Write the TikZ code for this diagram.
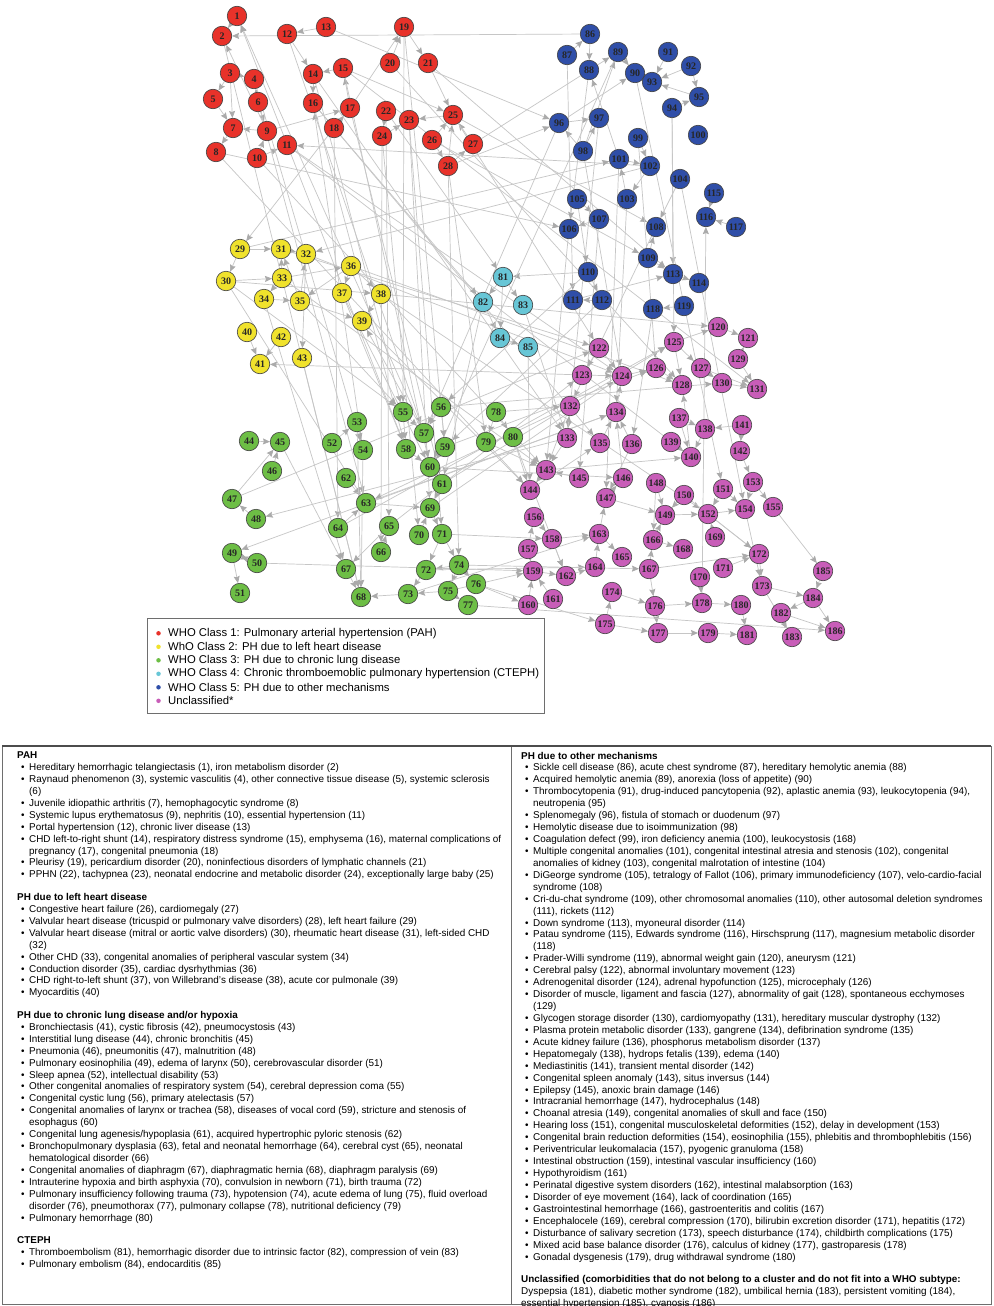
\documentclass[tikz,border=0pt]{standalone}
\usepackage{fontspec}
\setmainfont{Liberation Sans}
\newfontfamily\numfont{Liberation Serif}
\usepackage{tikz}
\usetikzlibrary{arrows.meta, backgrounds}
\definecolor{pahcol}{HTML}{E8322A}
\definecolor{lhdcol}{HTML}{F0E22C}
\definecolor{lungcol}{HTML}{6DBE45}
\definecolor{ctephcol}{HTML}{67C6D6}
\definecolor{othercol}{HTML}{2F4EA8}
\definecolor{unclcol}{HTML}{C85DB8}
\definecolor{linkcol}{HTML}{C6C6C6}
\definecolor{tipcol}{HTML}{AAAAAA}
\definecolor{framecol}{HTML}{6E6E6E}
\newcommand{\itm}{\hspace*{4pt}\makebox[8pt][l]{\textbullet}}
\newcommand{\cnt}{\hspace*{12pt}}

\begin{document}
\begin{tikzpicture}[
  x=1pt, y=-1pt,
  disease/.style={circle, draw=black!75, line width=0.6pt,
                  minimum size=19.5pt, inner sep=0pt, text=black!85,
                  font=\numfont\bfseries\fontsize{10}{10}\selectfont},
  pahnode/.style={disease, fill=pahcol},
  lhdnode/.style={disease, fill=lhdcol},
  lungnode/.style={disease, fill=lungcol},
  ctephnode/.style={disease, fill=ctephcol},
  othernode/.style={disease, fill=othercol},
  unclnode/.style={disease, fill=unclcol},
  link/.style={draw=linkcol, line width=0.7pt,
               -{Stealth[length=7pt,width=6pt,inset=1pt,color=tipcol]}},
  legbox/.style={draw=framecol, line width=0.9pt, minimum width=397pt,
                 minimum height=95pt, inner sep=0pt},
  legdot/.style={circle, inner sep=0pt, minimum size=4.5pt},
  legtext/.style={anchor=west, inner sep=0pt,
                  font=\fontsize{11.3}{12}\selectfont},
  tabcol/.style={anchor=north west, inner sep=0pt, align=left,
                 font=\fontsize{9.9}{11.93}\selectfont},
  tabrule/.style={draw=framecol, line width=1pt}
]
\useasboundingbox (0,0) rectangle (993,1306);

%% ── Cluster 1 (red) ─────────────────────────────────────────
\foreach \i/\x/\y in {1/237/16, 2/222/36, 3/230/73, 4/254/79, 5/213/99,
    6/258/102, 7/233/128, 8/216/152, 9/267/131, 10/257/158, 11/287/145,
    12/287/34, 13/326/27, 14/313/74, 15/343/68, 16/313/103, 17/350/108,
    18/334/128, 19/404/27, 20/390/63, 21/428/63, 22/386/111, 23/409/120,
    24/382/136, 25/453/115, 26/432/140, 27/473/144, 28/448/166}
  \node[pahnode] (n\i) at (\x,\y) {\i};

%% ── Cluster 2 (yellow) ──────────────────────────────────────
\foreach \i/\x/\y in {29/240/249, 30/226/281, 31/281/249, 32/306/254,
    33/282/278, 34/264/299, 35/300/301, 36/351/266, 37/342/293,
    38/381/294, 39/362/321, 40/247/332, 41/260/364, 42/281/337, 43/302/358}
  \node[lhdnode] (n\i) at (\x,\y) {\i};

%% ── Cluster 3 (green) ───────────────────────────────────────
\foreach \i/\x/\y in {44/249/441, 45/280/442, 46/272/471, 47/232/499,
    48/256/519, 49/232/553, 50/257/563, 51/240/593, 52/332/443,
    53/357/422, 54/363/450, 55/403/412, 56/441/407, 57/424/433,
    58/406/449, 59/445/447, 60/430/467, 61/442/484, 62/346/478,
    63/366/503, 64/338/528, 65/389/526, 66/381/552, 67/346/569,
    68/361/597, 69/430/508, 70/419/535, 71/442/534, 72/426/570,
    73/408/594, 74/459/565, 75/448/591, 76/476/584, 77/468/605,
    78/496/412, 79/486/442, 80/513/437}
  \node[lungnode] (n\i) at (\x,\y) {\i};

%% ── Cluster 4 (cyan) ────────────────────────────────────────
\foreach \i/\x/\y in {81/503/277, 82/483/302, 83/523/305, 84/500/338,
    85/528/347}
  \node[ctephnode] (n\i) at (\x,\y) {\i};

%% ── Cluster 5 (blue) ────────────────────────────────────────
\foreach \i/\x/\y in {86/590/34, 87/567/55, 88/589/70, 89/618/52,
    90/635/73, 91/668/52, 92/691/66, 93/652/82, 94/672/108, 95/699/97,
    96/559/123, 97/599/118, 98/583/151, 99/638/138, 100/698/135,
    101/619/159, 102/650/166, 103/627/199, 104/680/179, 105/577/199,
    106/569/229, 107/599/219, 108/656/227, 109/648/258, 110/588/272,
    111/573/300, 112/602/300, 113/673/274, 114/699/283, 115/714/193,
    116/706/217, 117/736/227, 118/653/309, 119/684/306}
  \node[othernode] (n\i) at (\x,\y) {\i};

%% ── Unclassified (magenta) ──────────────────────────────────
\foreach \i/\x/\y in {120/718/327, 121/748/338, 122/599/348, 123/582/375,
    124/622/376, 125/674/342, 126/656/368, 127/701/368, 128/682/385,
    129/738/359, 130/722/383, 131/757/389, 132/570/406, 133/567/438,
    134/616/412, 135/600/443, 136/632/444, 137/679/418, 138/705/429,
    139/671/442, 140/691/457, 141/742/425, 142/740/451, 143/546/470,
    144/530/490, 145/579/478, 146/623/478, 147/606/498, 148/656/483,
    149/665/515, 150/684/495, 151/723/489, 152/708/514, 153/753/482,
    154/745/509, 155/773/507, 156/534/517, 157/528/549, 158/552/539,
    159/533/571, 160/528/605, 161/553/599, 162/566/576, 163/599/534,
    164/595/567, 165/622/557, 166/653/540, 167/649/569, 168/683/549,
    169/715/537, 170/700/577, 171/723/568, 172/759/554, 173/762/586,
    174/612/592, 175/605/624, 176/655/606, 177/658/633, 178/702/603,
    179/708/633, 180/741/605, 181/747/635, 182/781/613, 183/792/637,
    184/813/598, 185/823/571, 186/835/631}
  \node[unclnode] (n\i) at (\x,\y) {\i};

%% ── Links (behind the nodes) ────────────────────────────────
\begin{scope}[on background layer]
  \fill[white] (0,0) rectangle (993,1306);
  % red cluster
  \foreach \a/\b in {1/2, 13/12, 86/2, 3/7, 3/5, 5/7, 6/4, 9/7, 6/9, 7/8,
      10/9, 10/11, 12/14, 15/14, 14/16, 17/15, 18/17, 9/17, 17/19, 20/19,
      19/21, 22/24, 24/23, 25/23, 15/25, 26/25, 27/25, 28/25, 28/27, 26/28,
      21/25, 9/2, 3/4, 13/96, 8/106, 18/29, 19/55, 19/59, 102/11, 28/96,
      58/1, 57/1, 54/16, 12/57, 14/55, 16/58, 15/60, 17/61, 18/64, 24/66,
      22/65, 23/69, 23/71, 28/79, 28/74, 25/122, 25/108, 26/109, 27/89,
      10/143, 11/140, 4/54, 6/63, 21/113, 15/131, 14/133, 2/68, 16/135,
      20/128, 24/70, 8/144, 11/124, 22/81}
    \draw[link] (n\a) -- (n\b);
  % yellow cluster
  \foreach \a/\b in {29/30, 29/31, 33/31, 35/31, 35/32, 33/36, 34/35, 33/34,
      36/35, 36/38, 36/37, 38/39, 35/39, 32/43, 42/41, 40/41, 123/41, 30/33,
      31/32, 102/32, 29/101, 30/63, 30/55, 34/67, 35/55, 37/60, 38/120,
      57/39, 36/128, 32/124, 43/68, 30/38, 31/122, 33/143, 39/144, 37/58,
      38/152}
    \draw[link] (n\a) -- (n\b);
  % cyan cluster
  \foreach \a/\b in {81/82, 81/83, 82/84, 81/84, 84/85, 110/81, 85/144,
      16/82, 83/133, 82/61}
    \draw[link] (n\a) -- (n\b);
  % blue cluster
  \foreach \a/\b in {87/86, 86/88, 89/90, 101/88, 98/89, 91/93, 92/93, 95/93,
      92/95, 94/95, 96/90, 96/97, 98/97, 98/96, 101/102, 102/103, 103/101,
      105/107, 107/106, 109/108, 109/113, 117/116, 115/116, 178/116, 94/113,
      113/114, 112/111, 110/112, 119/118, 111/113, 99/102, 87/111, 88/106,
      97/133, 98/124, 94/125, 104/108, 108/132, 106/143, 99/126, 90/151,
      105/110, 107/145, 101/147, 103/134, 110/56, 112/59, 118/136, 96/57,
      89/60, 104/154}
    \draw[link] (n\a) -- (n\b);
  % magenta nodes
  \foreach \a/\b in {125/120, 120/121, 122/124, 123/124, 124/126, 125/128,
      125/127, 127/130, 130/131, 129/131, 127/131, 140/128, 133/132, 146/134,
      135/134, 136/134, 137/138, 141/138, 139/140, 138/140, 141/142, 142/153,
      153/155, 153/154, 151/154, 143/140, 133/143, 145/143, 143/144, 144/135,
      147/146, 147/149, 148/149, 149/152, 150/149, 151/152, 152/154, 156/158,
      157/156, 158/162, 160/159, 161/159, 159/162, 164/163, 163/165, 167/166,
      166/168, 158/163, 167/172, 172/173, 184/182, 185/184, 155/185, 173/184,
      174/176, 176/178, 178/180, 175/174, 167/176, 170/178, 122/123, 132/143,
      126/128, 163/147, 166/149, 150/172, 173/183, 182/186, 184/186, 176/177,
      177/179, 179/181, 180/181, 175/177, 152/172, 154/173, 129/121, 137/140,
      134/124, 136/147, 148/166, 169/152, 171/172, 162/164, 157/159}
    \draw[link] (n\a) -- (n\b);
  % green cluster
  \foreach \a/\b in {44/45, 46/45, 47/45, 48/47, 50/49, 49/51, 49/50, 52/53,
      53/54, 55/57, 56/57, 56/59, 58/60, 57/60, 59/60, 60/61, 63/69, 64/63,
      65/67, 66/65, 67/68, 73/68, 72/73, 74/72, 74/75, 75/73, 74/76, 75/77,
      71/74, 69/71, 70/69, 71/72, 78/79, 78/80, 45/67, 62/63, 55/58, 54/68,
      53/68, 61/69, 47/122, 133/48, 134/49, 50/159, 132/63, 73/163, 77/186,
      76/160, 79/143, 80/144, 75/159, 69/124, 61/125, 63/134, 64/125, 71/158,
      72/164, 56/130, 59/126, 76/175, 60/146, 78/132, 80/162, 74/167, 65/123}
    \draw[link] (n\a) -- (n\b);
\end{scope}

%% ── Legend ──────────────────────────────────────────────────
\node[legbox] (legend) at (345.5,665.5) {};
\foreach \c/\t [count=\k] in {
    pahcol/WHO Class 1: Pulmonary arterial hypertension (PAH),
    lhdcol/WhO Class 2: PH due to left heart disease,
    lungcol/WHO Class 3: PH due to chronic lung disease,
    ctephcol/WHO Class 4: Chronic thromboemoblic pulmonary hypertension (CTEPH),
    othercol/WHO Class 5: PH due to other mechanisms,
    unclcol/Unclassified*}
{
  \node[legdot, fill=\c] (dot\k) at (158.5,619.8+13.5*\k) {};
  \node[legtext] (leg\k) at (168,619.8+13.5*\k) {\t};
}

%% ── Table of comorbidities ──────────────────────────────────
\draw[tabrule] (2,746) rectangle (991,1304);
\draw[tabrule] (511,746) -- (511,1304);
\draw[draw=black!70, line width=1.6pt] (2,746) -- (991,746);

\node[tabcol] (lefttext) at (17,750.4) {\rule{0pt}{8pt}\textbf{PAH}\\
\itm Hereditary hemorrhagic telangiectasis (1), iron metabolism disorder (2)\\
\itm Raynaud phenomenon (3), systemic vasculitis (4), other connective tissue disease (5), systemic sclerosis\\
\cnt (6)\\
\itm Juvenile idiopathic arthritis (7), hemophagocytic syndrome (8)\\
\itm Systemic lupus erythematosus (9), nephritis (10), essential hypertension (11)\\
\itm Portal hypertension (12), chronic liver disease (13)\\
\itm CHD left-to-right shunt (14), respiratory distress syndrome (15), emphysema (16), maternal complications of\\
\cnt pregnancy (17), congenital pneumonia (18)\\
\itm Pleurisy (19), pericardium disorder (20), noninfectious disorders of lymphatic channels (21)\\
\itm PPHN (22), tachypnea (23), neonatal endocrine and metabolic disorder (24), exceptionally large baby (25)\\[10.6pt]
\textbf{PH due to left heart disease}\\
\itm Congestive heart failure (26), cardiomegaly (27)\\
\itm Valvular heart disease (tricuspid or pulmonary valve disorders) (28), left heart failure (29)\\
\itm Valvular heart disease (mitral or aortic valve disorders) (30), rheumatic heart disease (31), left-sided CHD\\
\cnt (32)\\
\itm Other CHD (33), congenital anomalies of peripheral vascular system (34)\\
\itm Conduction disorder (35), cardiac dysrhythmias (36)\\
\itm CHD right-to-left shunt (37), von Willebrand's disease (38), acute cor pulmonale (39)\\
\itm Myocarditis (40)\\[10.6pt]
\textbf{PH due to chronic lung disease and/or hypoxia}\\
\itm Bronchiectasis (41), cystic fibrosis (42), pneumocystosis (43)\\
\itm Interstitial lung disease (44), chronic bronchitis (45)\\
\itm Pneumonia (46), pneumonitis (47), malnutrition (48)\\
\itm Pulmonary eosinophilia (49), edema of larynx (50), cerebrovascular disorder (51)\\
\itm Sleep apnea (52), intellectual disability (53)\\
\itm Other congenital anomalies of respiratory system (54), cerebral depression coma (55)\\
\itm Congenital cystic lung (56), primary atelectasis (57)\\
\itm Congenital anomalies of larynx or trachea (58), diseases of vocal cord (59), stricture and stenosis of\\
\cnt esophagus (60)\\
\itm Congenital lung agenesis/hypoplasia (61), acquired hypertrophic pyloric stenosis (62)\\
\itm Bronchopulmonary dysplasia (63), fetal and neonatal hemorrhage (64), cerebral cyst (65), neonatal\\
\cnt hematological disorder (66)\\
\itm Congenital anomalies of diaphragm (67), diaphragmatic hernia (68), diaphragm paralysis (69)\\
\itm Intrauterine hypoxia and birth asphyxia (70), convulsion in newborn (71), birth trauma (72)\\
\itm Pulmonary insufficiency following trauma (73), hypotension (74), acute edema of lung (75), fluid overload\\
\cnt disorder (76), pneumothorax (77), pulmonary collapse (78), nutritional deficiency (79)\\
\itm Pulmonary hemorrhage (80)\\[10.6pt]
\textbf{CTEPH}\\
\itm Thromboembolism (81), hemorrhagic disorder due to intrinsic factor (82), compression of vein (83)\\
\itm Pulmonary embolism (84), endocarditis (85)};

\node[tabcol] (righttext) at (521,750.8) {\rule{0pt}{8pt}\textbf{PH due to other mechanisms}\\
\itm Sickle cell disease (86), acute chest syndrome (87), hereditary hemolytic anemia (88)\\
\itm Acquired hemolytic anemia (89), anorexia (loss of appetite) (90)\\
\itm Thrombocytopenia (91), drug-induced pancytopenia (92), aplastic anemia (93), leukocytopenia (94),\\
\cnt neutropenia (95)\\
\itm Splenomegaly (96), fistula of stomach or duodenum (97)\\
\itm Hemolytic disease due to isoimmunization (98)\\
\itm Coagulation defect (99), iron deficiency anemia (100), leukocystosis (168)\\
\itm Multiple congenital anomalies (101), congenital intestinal atresia and stenosis (102), congenital\\
\cnt anomalies of kidney (103), congenital malrotation of intestine (104)\\
\itm DiGeorge syndrome (105), tetralogy of Fallot (106), primary immunodeficiency (107), velo-cardio-facial\\
\cnt syndrome (108)\\
\itm Cri-du-chat syndrome (109), other chromosomal anomalies (110), other autosomal deletion syndromes\\
\cnt (111), rickets (112)\\
\itm Down syndrome (113), myoneural disorder (114)\\
\itm Patau syndrome (115), Edwards syndrome (116), Hirschsprung (117), magnesium metabolic disorder\\
\cnt (118)\\
\itm Prader-Willi syndrome (119), abnormal weight gain (120), aneurysm (121)\\
\itm Cerebral palsy (122), abnormal involuntary movement (123)\\
\itm Adrenogenital disorder (124), adrenal hypofunction (125), microcephaly (126)\\
\itm Disorder of muscle, ligament and fascia (127), abnormality of gait (128), spontaneous ecchymoses\\
\cnt (129)\\
\itm Glycogen storage disorder (130), cardiomyopathy (131), hereditary muscular dystrophy (132)\\
\itm Plasma protein metabolic disorder (133), gangrene (134), defibrination syndrome (135)\\
\itm Acute kidney failure (136), phosphorus metabolism disorder (137)\\
\itm Hepatomegaly (138), hydrops fetalis (139), edema (140)\\
\itm Mediastinitis (141), transient mental disorder (142)\\
\itm Congenital spleen anomaly (143), situs inversus (144)\\
\itm Epilepsy (145), anoxic brain damage (146)\\
\itm Intracranial hemorrhage (147), hydrocephalus (148)\\
\itm Choanal atresia (149), congenital anomalies of skull and face (150)\\
\itm Hearing loss (151), congenital musculoskeletal deformities (152), delay in development (153)\\
\itm Congenital brain reduction deformities (154), eosinophilia (155), phlebitis and thrombophlebitis (156)\\
\itm Periventricular leukomalacia (157), pyogenic granuloma (158)\\
\itm Intestinal obstruction (159), intestinal vascular insufficiency (160)\\
\itm Hypothyroidism (161)\\
\itm Perinatal digestive system disorders (162), intestinal malabsorption (163)\\
\itm Disorder of eye movement (164), lack of coordination (165)\\
\itm Gastrointestinal hemorrhage (166), gastroenteritis and colitis (167)\\
\itm Encephalocele (169), cerebral compression (170), bilirubin excretion disorder (171), hepatitis (172)\\
\itm Disturbance of salivary secretion (173), speech disturbance (174), childbirth complications (175)\\
\itm Mixed acid base balance disorder (176), calculus of kidney (177), gastroparesis (178)\\
\itm Gonadal dysgenesis (179), drug withdrawal syndrome (180)\\[10.6pt]
\textbf{Unclassified (comorbidities that do not belong to a cluster and do not fit into a WHO subtype:}\\
Dyspepsia (181), diabetic mother syndrome (182), umbilical hernia (183), persistent vomiting (184),\\
essential hypertension (185), cyanosis (186)};

\end{tikzpicture}
\end{document}
